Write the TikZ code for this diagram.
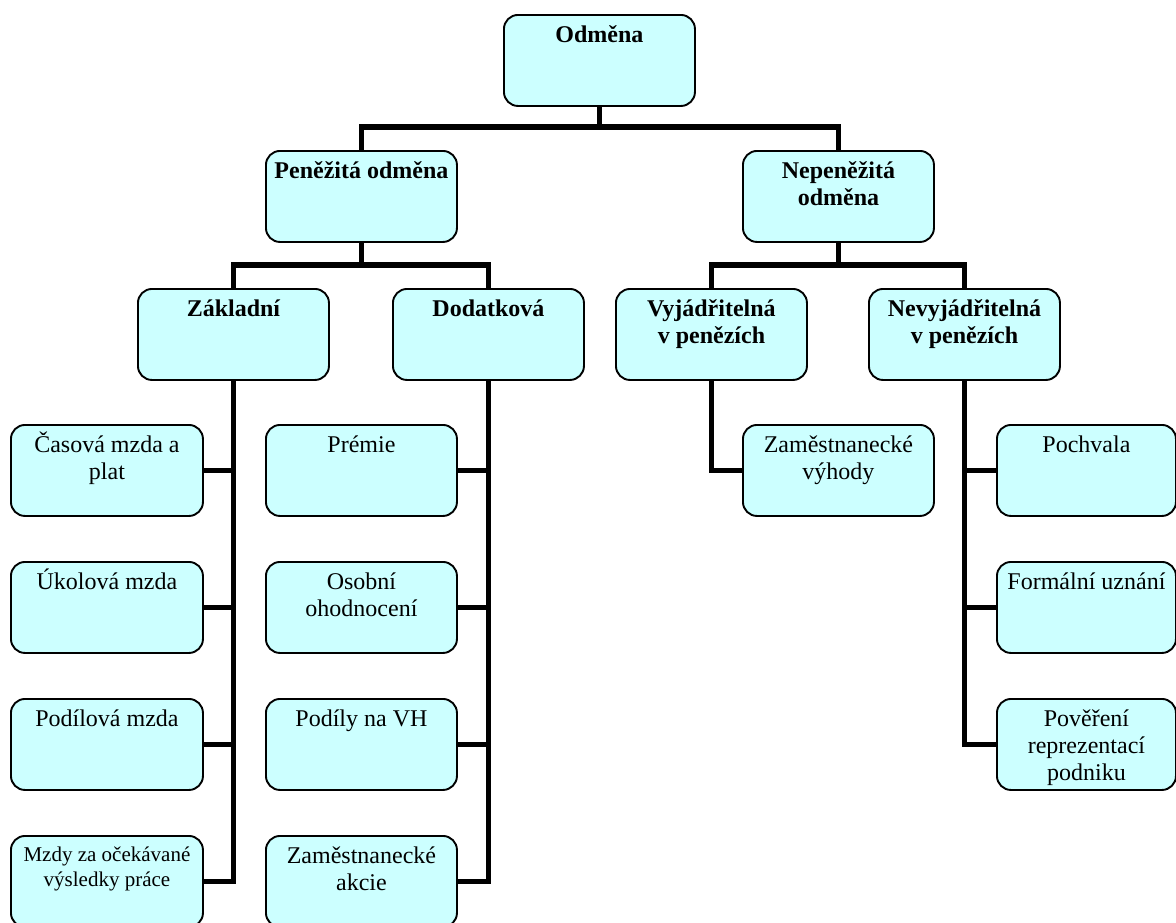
\documentclass[tikz,border=0pt]{standalone}
\usepackage{fontspec}
\setmainfont{Liberation Serif}
\usetikzlibrary{backgrounds}
\definecolor{boxfill}{RGB}{204,255,255}
% text block of a card: fixed height, text hung from the top edge
\newcommand{\cardtext}[3][28pt]{\parbox[c][91pt][t]{#2}{\centering\rule{0pt}{#1}#3}}
\tikzset{
  card/.style={draw, line width=1.9pt, rounded corners=14pt, fill=boxfill,
               anchor=north west, inner sep=0pt,
               font=\fontsize{24}{27}\selectfont},
  head/.style={card, font=\bfseries\fontsize{24}{27}\selectfont},
  small/.style={card, font=\fontsize{21}{24.5}\selectfont},
  link/.style={line width=5.5pt, line join=miter},
}
\begin{document}
\begin{tikzpicture}[x=1pt, y=-1pt]
\path[use as bounding box, clip] (0,0) rectangle (1176,922);

% upper levels
\node[head] (odm) at (503,14)  {\cardtext{191pt}{Odměna}};
\node[head] (pen) at (265,150) {\cardtext{191pt}{Peněžitá odměna}};
\node[head] (nep) at (742,150) {\cardtext{191pt}{Nepeněžitá\\odměna}};
\node[head] (zak) at (137,288) {\cardtext{191pt}{Základní}};
\node[head] (dod) at (392,288) {\cardtext{191pt}{Dodatková}};
\node[head] (vyj) at (615,288) {\cardtext{191pt}{Vyjádřitelná\\v penězích}};
\node[head] (nev) at (868,288) {\cardtext{191pt}{Nevyjádřitelná\\v penězích}};

% basic pay
\node[card]  (cas)  at (10,424) {\cardtext{192pt}{Časová mzda a\\plat}};
\node[card]  (uko)  at (10,561) {\cardtext{192pt}{Úkolová mzda}};
\node[card]  (pod)  at (10,698) {\cardtext{192pt}{Podílová mzda}};
\node[small] (mzd)  at (10,835) {\cardtext[26pt]{192pt}{Mzdy za očekávané\\výsledky práce}};

% supplementary pay
\node[card] (pre)  at (265,424) {\cardtext{191pt}{Prémie}};
\node[card] (oso)  at (265,561) {\cardtext{191pt}{Osobní\\ohodnocení}};
\node[card] (vh)   at (265,698) {\cardtext{191pt}{Podíly na VH}};
\node[card] (akc)  at (265,835) {\cardtext{191pt}{Zaměstnanecké\\akcie}};

% non-monetary
\node[card] (vyh)  at (742,424) {\cardtext{191pt}{Zaměstnanecké\\výhody}};
\node[card] (poch) at (996,424) {\cardtext{179pt}{Pochvala}};
\node[card] (form) at (996,561) {\cardtext{179pt}{Formální uznání}};
\node[card] (pov)  at (996,698) {\cardtext{179pt}{Pověření\\reprezentací\\podniku}};

\begin{scope}[on background layer]
  % level 1
  \draw[link] (odm.south) -- ++(0,22);
  \draw[link] (pen.north) -- ++(0,-23) -| (nep.north);
  % level 2
  \draw[link] (pen.south) -- ++(0,24);
  \draw[link] (zak.north) -- ++(0,-23) -| (dod.north);
  \draw[link] (nep.south) -- ++(0,23);
  \draw[link] (vyj.north) -- ++(0,-23) -| (nev.north);
  % columns
  \draw[link] (zak.south) |- (mzd.east);
  \draw[link] (cas.east) -- (cas.east -| zak.south);
  \draw[link] (uko.east) -- (uko.east -| zak.south);
  \draw[link] (pod.east) -- (pod.east -| zak.south);
  \draw[link] (dod.south) |- (akc.east);
  \draw[link] (pre.east) -- (pre.east -| dod.south);
  \draw[link] (oso.east) -- (oso.east -| dod.south);
  \draw[link] (vh.east)  -- (vh.east -| dod.south);
  \draw[link] (vyj.south) |- (vyh.west);
  \draw[link] (nev.south) |- (pov.west);
  \draw[link] (poch.west) -- (poch.west -| nev.south);
  \draw[link] (form.west) -- (form.west -| nev.south);
\end{scope}
\end{tikzpicture}
\end{document}
